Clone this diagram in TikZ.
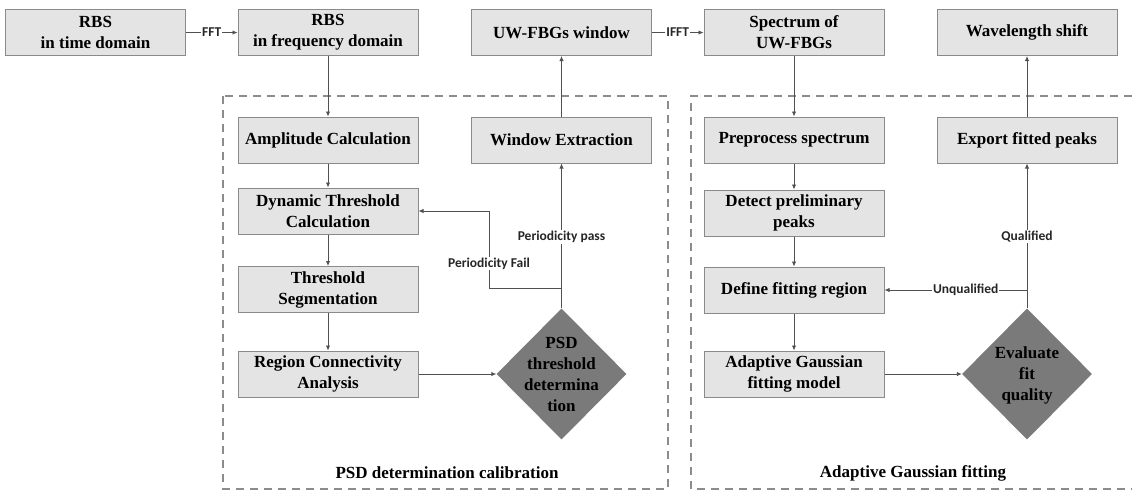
\documentclass[tikz,border=0pt]{standalone}
\usepackage{fontspec}
\setmainfont{Liberation Serif}
\newfontfamily\lblfont{Carlito}
\usetikzlibrary{shapes.geometric,arrows.meta}
\definecolor{boxfill}{HTML}{E4E4E4}
\definecolor{boxline}{HTML}{8A8A8A}
\definecolor{dfill}{HTML}{7A7A7A}
\definecolor{connc}{HTML}{505050}
\definecolor{dashc}{HTML}{8C8C8C}
\begin{document}
\begin{tikzpicture}[x=1pt,y=-1pt,
  stepbox/.style={draw=boxline, line width=1pt, fill=boxfill, minimum width=180pt, minimum height=46pt, inner sep=0pt, align=center, font=\fontsize{17}{21}\selectfont\bfseries},
  decision/.style={diamond, fill=dfill, minimum width=130pt, minimum height=131pt, inner sep=0pt},
  dtext/.style={align=center, inner sep=0pt, font=\fontsize{17}{21}\selectfont\bfseries},
  conn/.style={draw=connc, line width=0.9pt, -{Latex[length=5pt,width=4.5pt]}},
  plain/.style={draw=connc, line width=0.9pt},
  lbl/.style={fill=white, inner sep=1pt, font=\lblfont\fontsize{13.5}{15}\selectfont\bfseries, text=black!85},
  group/.style={draw=dashc, line width=1.1pt, dash pattern=on 8pt off 6pt},
  grouplbl/.style={inner sep=0pt, font=\fontsize{17}{21}\selectfont\bfseries}
]
\fill[white] (0,0) rectangle (1132,491);
\useasboundingbox (0,0) rectangle (1132,491);

% group frames
\draw[group] (223,96) rectangle (668,489);
\draw[group] (1132,96) -- (691,96) -- (691,489) -- (1132,489);
\node[grouplbl] (g1) at (447,473) {PSD determination calibration};
\node[grouplbl] (g2) at (913,473) {Adaptive Gaussian fitting};

% top row
\node[stepbox] (t1) at (95.5,32.5) {RBS\\in time domain};
\node[stepbox] (t2) at (328,32.5) {RBS\\in frequency domain};
\node[stepbox] (t3) at (561.5,32.5) {UW-FBGs window};
\node[stepbox] (t4) at (794,32.5) {Spectrum of\\UW-FBGs};
\node[stepbox] (t5) at (1027,32.5) {Wavelength shift};

% left group
\node[stepbox] (a1) at (328,140) {Amplitude Calculation};
\node[stepbox] (a2) at (328,211) {Dynamic Threshold\\Calculation};
\node[stepbox] (a3) at (328,289.5) {Threshold\\Segmentation};
\node[stepbox] (a4) at (328,374) {Region Connectivity\\Analysis};
\node[stepbox] (w) at (561.5,140) {Window Extraction};
\node[decision] (d1) at (561.5,374) {};
\node[dtext] (d1t) at (561.5,374) {PSD\\threshold\\determina\\tion};

% right group
\node[stepbox] (b1) at (794,140) {Preprocess spectrum};
\node[stepbox] (b2) at (794,213) {Detect preliminary\\peaks};
\node[stepbox] (b3) at (794,290) {Define fitting region};
\node[stepbox] (b4) at (794,374) {Adaptive Gaussian\\fitting model};
\node[stepbox] (e) at (1027,140) {Export fitted peaks};
\node[decision] (d2) at (1027,374) {};
\node[dtext] (d2t) at (1027,375) {Evaluate\\fit\\quality};

% connectors top
\draw[conn] (t1) -- node[lbl]{FFT} (t2);
\draw[conn] (t3) -- node[lbl]{IFFT} (t4);
\draw[conn] (t2) -- (a1);
\draw[conn] (w) -- (t3);
\draw[conn] (t4) -- (b1);
\draw[conn] (e) -- (t5);

% left chain
\draw[conn] (a1) -- (a2);
\draw[conn] (a2) -- (a3);
\draw[conn] (a3) -- (a4);
\draw[conn] (a4) -- (d1);
\coordinate (j1) at (561.5,288);
\coordinate (f1) at (489,288);
\draw[plain] (d1.north) -- (j1);
\draw[conn] (j1) -- node[lbl,pos=0.41]{Periodicity pass} (w.south);
\draw[conn] (j1) -- (f1) -- node[lbl,pos=0.32]{Periodicity Fail} (f1 |- a2.east) -- (a2.east);

% right chain
\draw[conn] (b1) -- (b2);
\draw[conn] (b2) -- (b3);
\draw[conn] (b3) -- (b4);
\draw[conn] (b4) -- (d2);
\coordinate (j2) at (1027,290);
\draw[plain] (d2.north) -- (j2);
\draw[conn] (j2) -- node[lbl,pos=0.42]{Qualified} (e.south);
\draw[conn] (j2) -- node[lbl,pos=0.43]{Unqualified} (b3.east);
\end{tikzpicture}
\end{document}
